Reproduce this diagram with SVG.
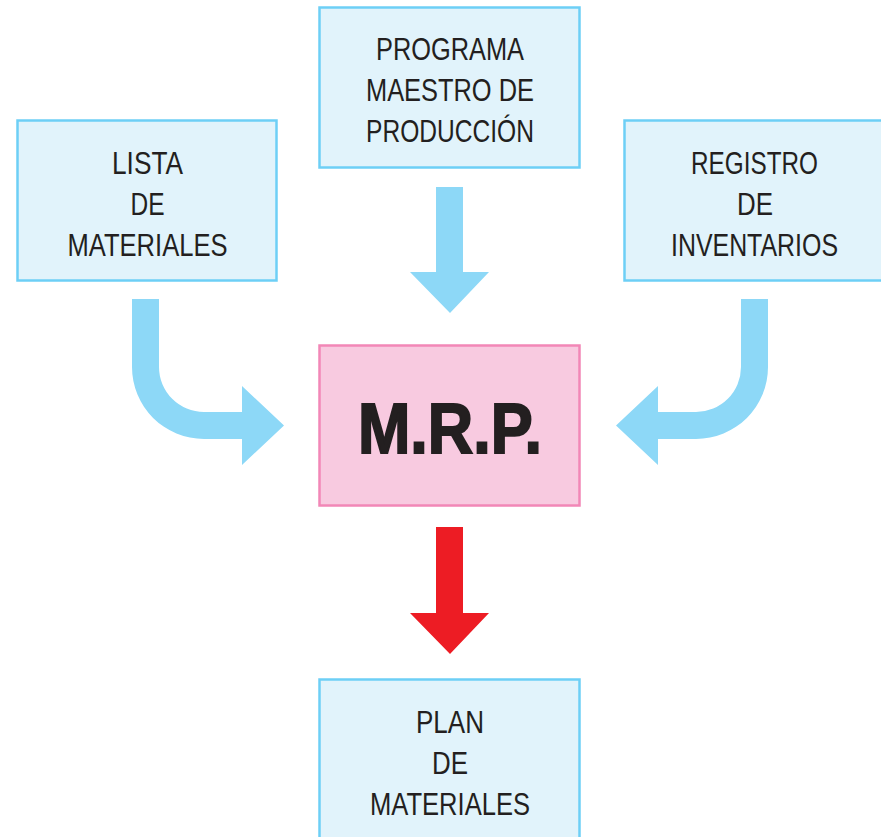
<svg xmlns="http://www.w3.org/2000/svg" width="881" height="837" viewBox="0 0 881 837">
<style>
.box{fill:#e1f3fb;stroke:#6dcff6;stroke-width:2.5}
.mrp{fill:#f8cae0;stroke:#f287b7;stroke-width:2.5}
.t{font-family:"Liberation Sans Narrow","Liberation Sans",Arial,sans-serif;font-size:31.5px;fill:#231f20;text-anchor:middle}
.big{font-family:"Liberation Sans","Arial",sans-serif;font-weight:bold;font-size:71px;fill:#231f20;stroke:#231f20;stroke-width:2;stroke-linejoin:miter;text-anchor:middle}
.blue{fill:#8dd8f7}
.red{fill:#ed1c24}
</style>
<rect width="881" height="837" fill="#ffffff"/>
<g id="connectors">
<path class="blue" d="M436,187 L463,187 L463,272 L489,272 L450,313 L410,272 L436,272 Z"/>
<path class="blue" d="M132,299 L132,367 A72,72 0 0 0 204,439 L242,439 L242,465 L284,425.5 L242,386 L242,412 L204,412 A45,45 0 0 1 159,367 L159,299 Z"/>
<path class="blue" d="M768,299 L768,367 A72,72 0 0 1 696,439 L658,439 L658,465 L616,425.5 L658,386 L658,412 L696,412 A45,45 0 0 0 741,367 L741,299 Z"/>
<path class="red" d="M436,527 L463,527 L463,613 L489,613 L450,654 L410,613 L436,613 Z"/>
</g>
<g id="lista">
<rect class="box" x="17.5" y="120.5" width="259" height="160"/>
<text class="t" x="147.5" y="174" textLength="71" lengthAdjust="spacingAndGlyphs">LISTA</text>
<text class="t" x="147.5" y="215" textLength="34" lengthAdjust="spacingAndGlyphs">DE</text>
<text class="t" x="147.5" y="256" textLength="160" lengthAdjust="spacingAndGlyphs">MATERIALES</text>
</g>
<g id="programa">
<rect class="box" x="319.5" y="7.5" width="260" height="160"/>
<text class="t" x="450" y="60" textLength="148" lengthAdjust="spacingAndGlyphs">PROGRAMA</text>
<text class="t" x="450" y="101" textLength="168" lengthAdjust="spacingAndGlyphs">MAESTRO DE</text>
<text class="t" x="450" y="142" textLength="168" lengthAdjust="spacingAndGlyphs">PRODUCCIÓN</text>
</g>
<g id="registro">
<rect class="box" x="624.5" y="120.5" width="262" height="160"/>
<text class="t" x="754.5" y="174" textLength="127" lengthAdjust="spacingAndGlyphs">REGISTRO</text>
<text class="t" x="755" y="215" textLength="36" lengthAdjust="spacingAndGlyphs">DE</text>
<text class="t" x="754.5" y="256" textLength="167" lengthAdjust="spacingAndGlyphs">INVENTARIOS</text>
</g>
<g id="mrp">
<rect class="mrp" x="319.5" y="345.5" width="260" height="160"/>
<text class="big" x="450" y="453" textLength="184" lengthAdjust="spacingAndGlyphs">M.R.P.</text>
</g>
<g id="plan">
<rect class="box" x="319.5" y="679.5" width="260" height="170"/>
<text class="t" x="450" y="733" textLength="68" lengthAdjust="spacingAndGlyphs">PLAN</text>
<text class="t" x="450" y="774" textLength="36" lengthAdjust="spacingAndGlyphs">DE</text>
<text class="t" x="450" y="815" textLength="160" lengthAdjust="spacingAndGlyphs">MATERIALES</text>
</g>
</svg>
